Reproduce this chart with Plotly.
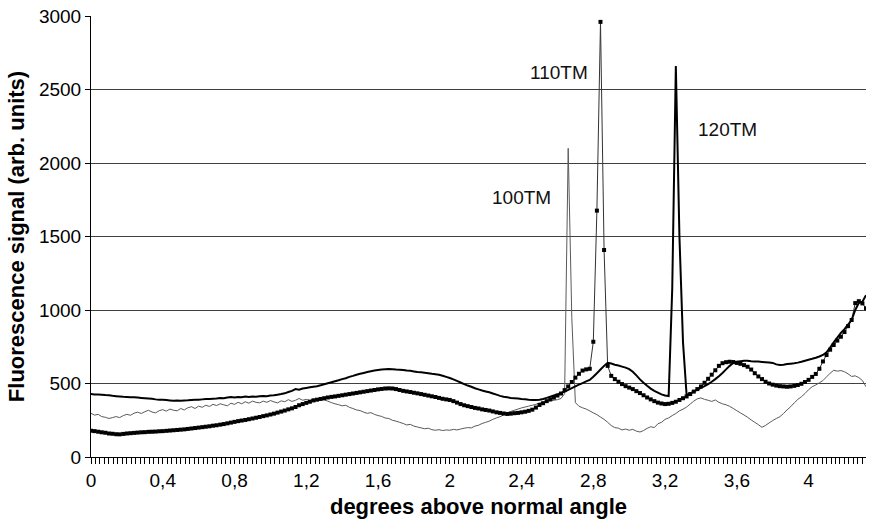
import plotly.graph_objects as go

# Angle grid step (degrees) shared by all three scans
step = 0.02

tm100 = [
    297, 285, 290, 275, 270, 262, 268, 275, 268, 282,
    290, 284, 298, 305, 296, 308, 318, 306, 300, 315,
    322, 312, 326, 318, 314, 330, 320, 335, 342, 330,
    346, 338, 352, 344, 358, 350, 362, 355, 348, 366,
    358, 372, 362, 376, 366, 380, 372, 368, 380, 372,
    384, 375, 368, 382, 376, 390, 378, 386, 398, 386,
    392, 385, 396, 388, 392, 388, 380, 370, 362, 356,
    348, 352, 338, 330, 320, 316, 305, 297, 302, 290,
    282, 276, 265, 262, 250, 244, 236, 228, 218, 222,
    210, 204, 198, 192, 196, 186, 182, 186, 180, 184,
    182, 188, 184, 190, 196, 200, 198, 210, 216, 228,
    236, 244, 256, 266, 274, 286, 296, 310, 318, 326,
    334, 340, 346, 352, 358, 368, 372, 378, 382, 386,
    390, 398, 430, 2100, 950, 370, 345, 335, 326, 314,
    300, 288, 272, 256, 236, 214, 200, 196, 184, 190,
    182, 188, 176, 170, 180, 195, 206, 200, 226, 236,
    256, 266, 282, 296, 314, 325, 340, 360, 380, 396,
    402, 392, 386, 378, 388, 372, 362, 355, 345, 330,
    315, 300, 286, 270, 252, 236, 220, 202, 215, 232,
    248, 262, 274, 296, 320, 342, 368, 392, 410, 432,
    458, 478, 490, 505, 520, 545, 570, 590, 584, 588,
    580, 566, 548, 552, 540, 520, 478,
]

tm110 = [
    179, 176, 172, 168, 165, 160, 158, 155, 154, 157,
    160, 162, 164, 166, 168, 169, 171, 172, 173, 175,
    176, 178, 180, 182, 184, 186, 188, 191, 194, 197,
    200, 203, 206, 209, 213, 216, 220, 224, 229, 234,
    239, 244, 248, 252, 257, 262, 267, 272, 278, 283,
    289, 295, 302, 309, 316, 324, 331, 340, 352, 360,
    368, 376, 385, 390, 395, 400, 405, 409, 412, 416,
    420, 424, 428, 432, 436, 440, 444, 448, 452, 456,
    460, 463, 466, 467, 466, 462, 456, 450, 446, 442,
    437, 433, 428, 423, 418, 413, 408, 402, 396, 392,
    388, 380, 370, 360, 352, 346, 340, 334, 330, 324,
    320, 316, 310, 304, 300, 296, 293, 295, 298, 300,
    304, 308, 314, 322, 336, 354, 366, 380, 392, 404,
    418, 432, 455, 480, 510, 540, 566, 588, 596, 600,
    784, 1676, 2960, 1408, 620, 552, 530, 512, 496, 482,
    472, 462, 448, 435, 420, 405, 392, 380, 370, 364,
    360, 362, 368, 376, 388, 400, 412, 428, 445, 462,
    480, 505, 532, 560, 590, 620, 638, 645, 648, 646,
    640, 634, 625, 614, 595, 570, 548, 530, 512, 500,
    492, 486, 482, 480, 478, 480, 484, 490, 498, 510,
    525, 545, 565, 600, 650, 694, 730, 762, 792, 818,
    850, 890, 932, 1047, 1060, 1045, 1012,
]

tm120 = [
    428, 426, 425, 423, 421, 420, 416, 414, 412, 410,
    409, 407, 406, 404, 402, 400, 398, 396, 392, 390,
    389, 387, 385, 383, 384, 383, 385, 386, 388, 390,
    389, 392, 395, 394, 397, 398, 402, 400, 405, 408,
    404, 408, 407, 412, 409, 411, 410, 413, 415, 414,
    418, 420, 424, 428, 433, 442, 450, 462, 458, 466,
    470, 474, 478, 482, 488, 495, 502, 508, 515, 522,
    530, 536, 545, 552, 560, 566, 572, 578, 583, 588,
    592, 595, 597, 598, 597, 595, 594, 592, 588, 586,
    582, 578, 576, 573, 570, 566, 563, 559, 553, 545,
    537, 528, 518, 507, 496, 486, 478, 468, 460, 452,
    446, 440, 432, 424, 416, 410, 406, 402, 400, 398,
    395, 393, 390, 388, 387, 389, 395, 402, 410, 418,
    426, 435, 445, 456, 468, 480, 492, 503, 514, 524,
    546, 570, 595, 620, 641, 636, 628, 622, 615, 608,
    598, 580, 555, 528, 505, 484, 465, 450, 438, 426,
    418, 415, 1150, 2660, 1500, 780, 422, 432, 445, 458,
    470, 482, 496, 512, 530, 550, 572, 596, 620, 639,
    648, 652, 654, 655, 652, 650, 649, 647, 645, 643,
    640, 630, 626, 628, 632, 635, 638, 642, 648, 655,
    662, 668, 675, 684, 694, 712, 745, 780, 812, 845,
    870, 900, 932, 1000, 1048, 1056, 1100,
]

angle = [round(i * step, 2) for i in range(len(tm120))]

# Tick marks every 0.025 degree, labelled every 0.4 degree (comma decimals)
tick_step = 0.025
tick_label_every = 16
x_tick_vals = [round(i * tick_step, 3) for i in range(int(4.32 / tick_step) + 1)]
x_tick_text = [
    (f"{v:g}".replace(".", ",") if i % tick_label_every == 0 else "")
    for i, v in enumerate(x_tick_vals)
]

peak_labels = ["100TM", "110TM", "120TM"]
label_x = [2.40, 2.61, 3.55]
label_y = [1762, 2619, 2231]

FONT = "Liberation Sans, Arial, sans-serif"

fig = go.Figure()

fig.add_trace(go.Scatter(
    x=angle, y=tm100, mode="lines", name="100TM",
    line=dict(color="#5a5a5a", width=1, simplify=False),
))
fig.add_trace(go.Scatter(
    x=angle, y=tm110, mode="lines+markers", name="110TM",
    line=dict(color="#333333", width=1, simplify=False),
    marker=dict(symbol="square", size=4, color="black", line=dict(width=0)),
))
fig.add_trace(go.Scatter(
    x=angle, y=tm120, mode="lines", name="120TM",
    line=dict(color="black", width=2, simplify=False),
))

for txt, lx, ly in zip(peak_labels, label_x, label_y):
    fig.add_annotation(
        x=lx, y=ly, text=txt, showarrow=False,
        font=dict(family=FONT, size=19, color="#111111"),
    )

fig.update_layout(
    width=869, height=527,
    margin=dict(l=91, r=3, t=16, b=70),
    paper_bgcolor="white", plot_bgcolor="white",
    showlegend=False,
    font=dict(family=FONT, size=19, color="black"),
)

fig.update_xaxes(
    range=[0, 4.32],
    tickmode="array", tickvals=x_tick_vals, ticktext=x_tick_text,
    ticks="outside", ticklen=6, tickcolor="black", tickwidth=1,
    showline=True, linecolor="black", linewidth=1,
    showgrid=False, zeroline=False,
    tickfont=dict(family=FONT, size=19),
    title=dict(text="<b>degrees above normal angle</b>",
               font=dict(family=FONT, size=22), standoff=8),
)

fig.update_yaxes(
    range=[0, 3000], dtick=500, tick0=0,
    ticks="outside", ticklen=5, tickcolor="black", tickwidth=1,
    showline=True, linecolor="black", linewidth=1,
    showgrid=True, gridcolor="#404040", gridwidth=1,
    zeroline=False,
    tickfont=dict(family=FONT, size=19),
    title=dict(text="<b>Fluorescence signal (arb. units)</b>",
               font=dict(family=FONT, size=22), standoff=8),
)

fig.write_html("out.html")
